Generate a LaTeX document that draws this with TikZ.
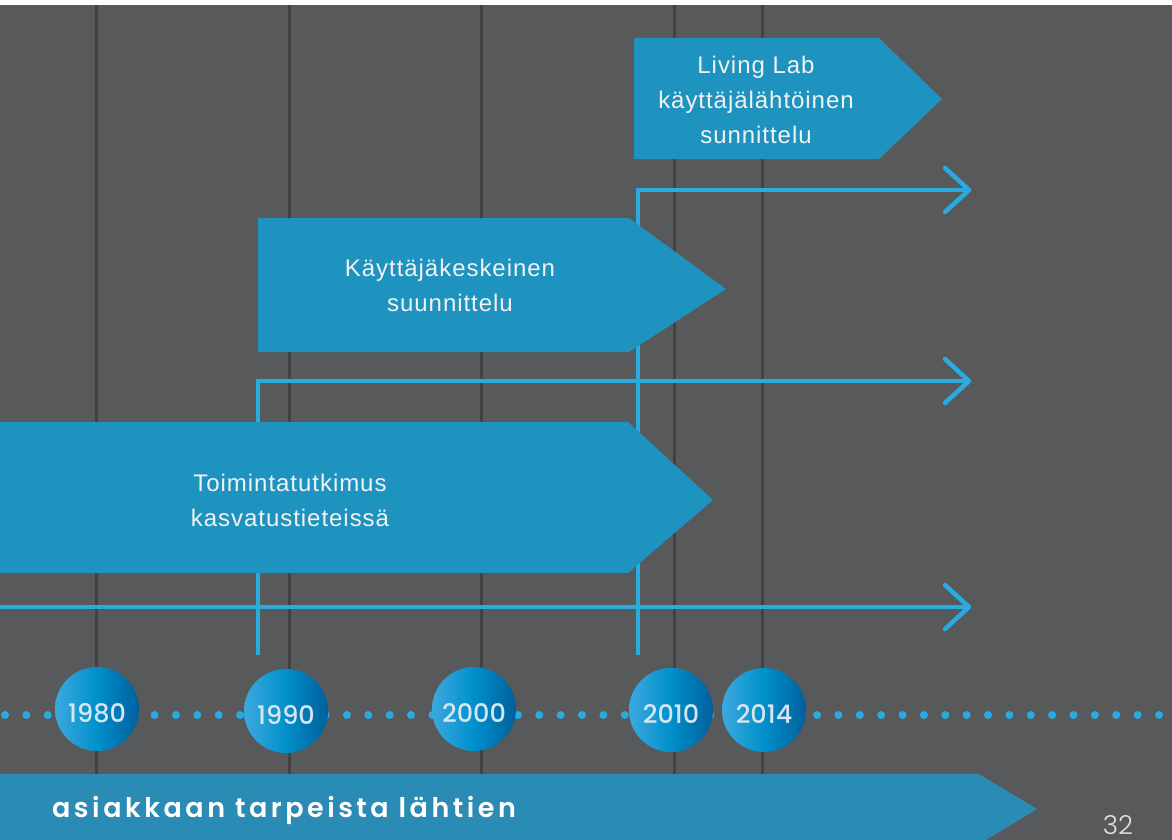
\documentclass[tikz,border=0pt]{standalone}
\usepackage{fontspec}
\setmainfont{Liberation Sans}[LetterSpace=4]
\newfontfamily\popsb{Poppins SemiBold}
\newfontfamily\popmd{Poppins Medium}
\newfontfamily\poplt{Poppins Light}
\definecolor{bg}{HTML}{58595B}
\definecolor{gridc}{HTML}{414143}
\definecolor{boxc}{HTML}{1F93BF}
\definecolor{linec}{HTML}{29ABE2}
\definecolor{bandc}{HTML}{2A8BB4}
\definecolor{yeartxt}{HTML}{D8E5F1}
\definecolor{circL}{HTML}{3BA9DE}
\definecolor{circM}{HTML}{0090CB}
\definecolor{circR}{HTML}{005F9C}
\definecolor{pagetxt}{HTML}{E2E2E2}
\tikzset{
  gridline/.style={draw=gridc, line width=3pt},
  blueline/.style={draw=linec, line width=4.5pt, line join=miter},
  chevron/.style={draw=linec, line width=4.5pt, line cap=round, line join=round},
  boxtext/.style={text=white!95!black, align=center, font=\fontsize{24}{35}\selectfont},
  yearnode/.style={circle, minimum size=84pt, inner sep=0pt, shading=axis, shading angle=90,
    left color=circL, right color=circR, middle color=circM,
    label={[text=yeartxt, font=\popmd\fontsize{25.5}{25.5}\selectfont, yshift=-4pt]center:#1}},
  dot/.style={fill=linec}
}
\begin{document}
\begin{tikzpicture}[x=1pt,y=-1pt]
\useasboundingbox (0,0) rectangle (1172,840);
\fill[white] (0,0) rectangle (1172,840);
\fill[bg] (0,5) rectangle (1172,840);
% grid lines
\foreach \x in {96,289,481,674,762} \draw[gridline] (\x,5) -- (\x,774);
% light blue timelines
\coordinate (s1) at (638,655);
\coordinate (c1) at (638,190);
\coordinate (e1) at (969,190);
\coordinate (s2) at (258,655);
\coordinate (c2) at (258,381);
\coordinate (e2) at (969,381);
\coordinate (s3) at (0,607);
\coordinate (e3) at (969,607);
\draw[blueline] (s1) -- (c1) -- (e1);
\draw[blueline] (s2) -- (c2) -- (e2);
\draw[blueline] (s3) -- (e3);
\foreach \e in {e1,e2,e3}
  \draw[chevron] (\e) ++(-24,-22) -- (\e) -- ++(-24,22);
% boxes
\fill[boxc] (634,38) -- (879,38) -- (942,99) -- (879,159) -- (634,159) -- cycle;
\fill[boxc] (258,218) -- (629,218) -- (726,289) -- (629,352) -- (258,352) -- cycle;
\fill[boxc] (0,422) -- (628,422) -- (713,500) -- (628,573) -- (0,573) -- cycle;
\node[boxtext] (t1) at (756,100) {Living Lab\\käyttäjälähtöinen\\sunnittelu};
\node[boxtext] (t2) at (450,285) {Käyttäjäkeskeinen\\suunnittelu};
\node[boxtext] (t3) at (290,500) {Toimintatutkimus\\kasvatustieteissä};
% dotted row
\foreach \i in {0,...,54} \fill[dot] ({5+21.37*\i},715) circle (4);
% year circles
\node[yearnode=1980] (y1980) at (97,709) {};
\node[yearnode=1990] (y1990) at (286,711) {};
\node[yearnode=2000] (y2000) at (474,709) {};
\node[yearnode=2010] (y2010) at (671,710) {};
\node[yearnode=2014] (y2014) at (764,710) {};
% bottom band
\fill[bandc] (0,774) -- (979,774) -- (1037,809) -- (986,840) -- (0,840) -- cycle;
\node[anchor=base west, inner sep=0pt, text=white, font=\popsb\fontsize{27}{27}\selectfont] (band) at (52,817)
  {\addfontfeatures{LetterSpace=13}asiakkaan tarpeista lähtien};
\node[anchor=base, inner sep=0pt, text=pagetxt, font=\poplt\fontsize{26}{26}\selectfont] (page) at (1118,834) {32};
\end{tikzpicture}
\end{document}
